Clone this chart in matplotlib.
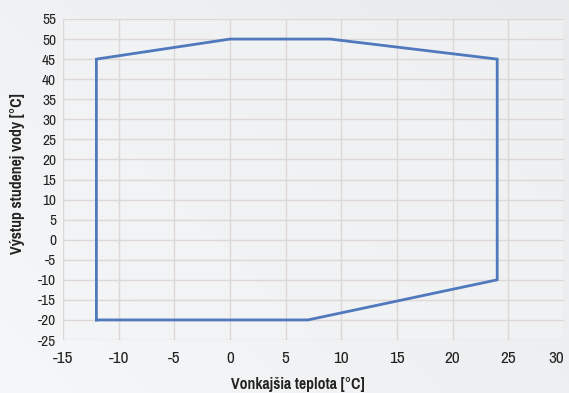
import numpy as np
import matplotlib
matplotlib.use("Agg")
import matplotlib.pyplot as plt
from matplotlib import font_manager

# envelope outline (outside temp, water temp)
temp_out = [-12, -12, 0, 9, 24, 24, 7, -12]
temp_water = [-20, 45, 50, 50, 45, -10, -20, -20]

x_ticks = [-15, -10, -5, 0, 5, 10, 15, 20, 25, 30]
y_ticks = [-25, -20, -15, -10, -5, 0, 5, 10, 15, 20, 25, 30, 35, 40, 45, 50, 55]

# narrow font if there is one
fam = "Liberation Sans"
bold_file = None
for f in font_manager.fontManager.ttflist:
    fn = f.fname.lower()
    if "narrow" in fn and "italic" not in fn:
        if "bold" in fn:
            bold_file = f.fname
        else:
            fam = f.name
narrow = fam != "Liberation Sans"

plt.rcParams["font.family"] = [fam, "DejaVu Sans"]
plt.rcParams["axes.unicode_minus"] = False

if bold_file:
    fp_lab = font_manager.FontProperties(fname=bold_file, size=12.3)
else:
    fp_lab = font_manager.FontProperties(family="Liberation Sans", weight="bold", size=10)

fig = plt.figure(figsize=(5.69, 3.93), dpi=100)
fig.patch.set_facecolor("#eef0f1")

# soft background gradient
bg = fig.add_axes([0, 0, 1, 1], zorder=-10)
gx, gy = np.meshgrid(np.linspace(0, 1, 200), np.linspace(0, 1, 200))
grad = 0.6 * gx + 0.4 * (1 - gy)
bg.imshow(grad, cmap=matplotlib.colors.LinearSegmentedColormap.from_list(
    "g", ["#f6f7f8", "#e8eaeb"]), aspect="auto", extent=[0, 1, 0, 1])
bg.axis("off")

ax = fig.add_axes([63 / 569, 53 / 393, 501 / 569, 321 / 393])
ax.set_facecolor("#f3f4f5")
ax.patch.set_alpha(0.6)

ax.plot(temp_out, temp_water, color="#4f78bd", lw=2.0, solid_joinstyle="miter")

ax.set_xlim(-15, 30)
ax.set_ylim(-25, 55)
ax.set_xticks(x_ticks)
ax.set_yticks(y_ticks)
ax.tick_params(axis="x", length=0, pad=8, colors="#222222",
               labelsize=13.5 if narrow else 11)
ax.tick_params(axis="y", length=0, pad=5, colors="#222222",
               labelsize=12 if narrow else 10)
ax.get_xticklabels()[-1].set_ha("right")
ax.grid(True, color="#ddd8d5", lw=1.0)
ax.set_axisbelow(True)
for s in ax.spines.values():
    s.set_visible(False)

fig.text(298 / 569, 1 - 384 / 393, "Vonkajšia teplota [°C]", ha="center", va="center",
         fontproperties=fp_lab, color="#222222")
fig.text(18 / 569, 1 - 174 / 393, "Výstup studenej vody [°C]", ha="center", va="center",
         rotation=90, fontproperties=fp_lab, color="#222222")

fig.savefig("out.png", dpi=100, facecolor=fig.get_facecolor())
